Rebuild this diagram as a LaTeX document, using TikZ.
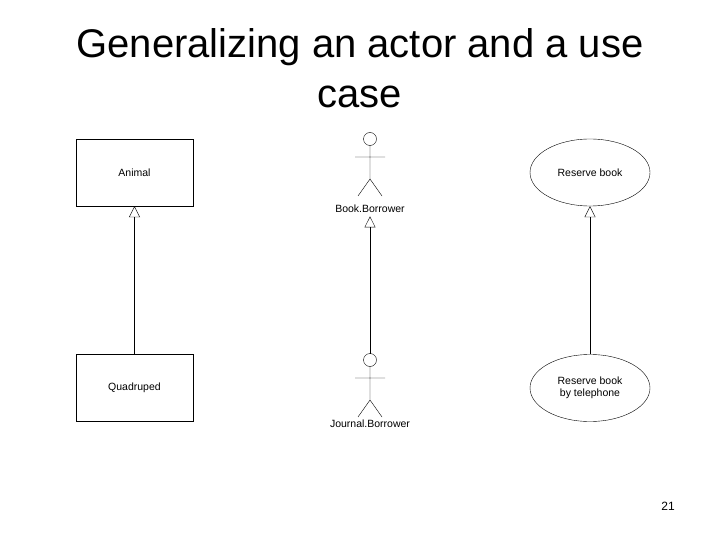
\documentclass[tikz,border=0pt]{standalone}
\usepackage{fontspec}
\setmainfont{Liberation Sans}
\usetikzlibrary{arrows.meta,positioning,shapes.geometric}
\tikzset{
  cls/.style={draw,minimum width=117pt,minimum height=67pt,font=\fontsize{10.5}{12.5}\selectfont},
  uc/.style={draw,ellipse,minimum width=120pt,minimum height=67pt,align=center,inner sep=1pt,font=\fontsize{10.5}{12.5}\selectfont},
  lbl/.style={font=\fontsize{10.5}{12.5}\selectfont},
  gen/.style={-{Triangle[open,length=11pt,width=11pt]}},
  pics/actor/.style={code={
    \draw (0,0) circle (6.5pt);
    \draw (0,6.5) -- (0,40) (-15,18) -- (15,18) (-12,57) -- (0,40) -- (12,57);
  }}
}
\begin{document}
\begin{tikzpicture}[x=1pt,y=-1pt,thin]
\useasboundingbox (0,0) rectangle (720,540);
\node[font=\fontsize{40}{50}\selectfont,align=center] (title) at (360,68) {Generalizing an actor and a use\\case};
% classes
\node[cls] (animal) at (134.5,172.5) {Animal};
\node[cls] (quad) at (134.5,388) {Quadruped};
\draw[gen] (quad) -- (animal);
% actors
\pic at (370,139) {actor};
\node[lbl] (book) at (370,209) {Book.Borrower};
\pic at (370,360) {actor};
\coordinate (jhead) at (370,353.5);
\node[lbl] (journal) at (370,424) {Journal.Borrower};
\draw[gen] (jhead) -- (book.south);
% use cases
\node[uc] (reserve) at (590,172.5) {Reserve book};
\node[uc] (phone) at (590,388) {Reserve book\\by telephone};
\draw[gen] (phone) -- (reserve);
\node[font=\fontsize{12}{14}\selectfont] (page) at (668,506) {21};
\end{tikzpicture}
\end{document}
